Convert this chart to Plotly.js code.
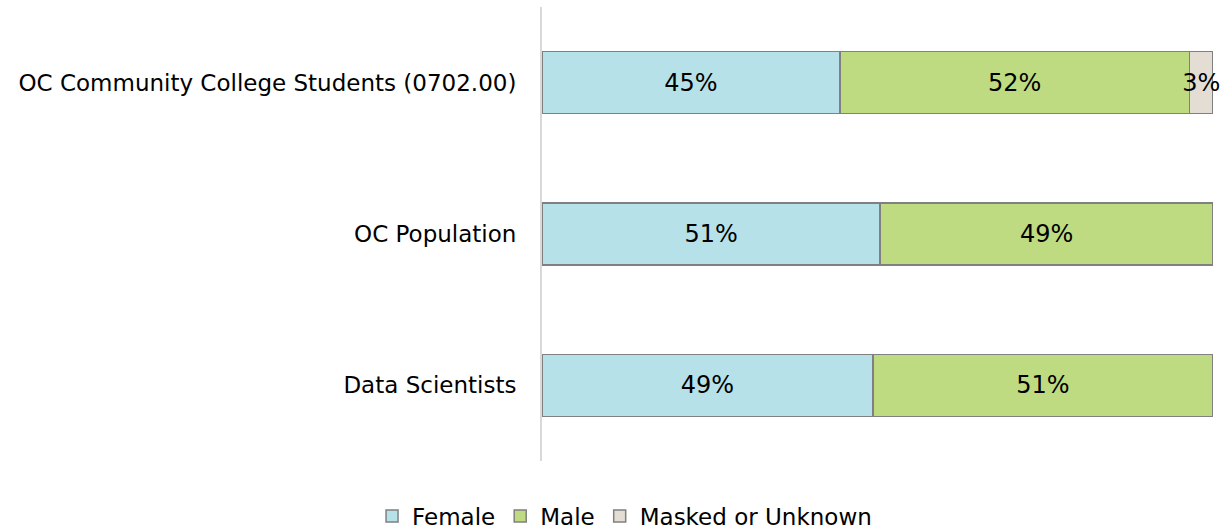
<!DOCTYPE html>
<html>
<head>
<meta charset="utf-8">
<script src="https://cdn.plot.ly/plotly-3.0.1.min.js"></script>
<style>
  body { margin: 0; background: #fff; }
  #graphique { width: 1231px; height: 529px; }
</style>
</head>
<body>
<div id="graphique"></div>
<script>
// Catégories (de haut en bas)
let categories = ["OC Community College Students (0702.00)", "OC Population", "Data Scientists"];

// Parts (en %)
let femmes = [44.4, 50.4, 49.3];
let hommes = [52.1, 49.6, 50.7];
let masques = [3.5, 0, 0];

// Étiquettes affichées dans les barres
let etiquettes_femmes = ["45%", "51%", "49%"];
let etiquettes_hommes = ["52%", "49%", "51%"];
let etiquettes_masques = ["3%", "", ""];

let police = "'DejaVu Sans', sans-serif";

function serie(nom, valeurs, etiquettes, couleur) {
    return {
        type: "bar",
        orientation: "h",
        name: nom,
        y: categories,
        x: valeurs,
        text: etiquettes,
        textposition: "inside",
        insidetextanchor: "middle",
        textangle: 0,
        constraintext: "none",
        cliponaxis: false,
        textfont: {family: police, size: 24, color: "#000000"},
        hoverinfo: "skip",
        marker: {color: couleur, line: {color: "#808080", width: 1.5}}
    };
}

let donnee = [
    serie("Female", femmes, etiquettes_femmes, "#b7e1e8"),
    serie("Male", hommes, etiquettes_hommes, "#bedb82"),
    serie("Masked or Unknown", masques, etiquettes_masques, "#e3ddd3")
];

let apparence = {
    width: 1231,
    height: 529,
    barmode: "stack",
    bargap: 0.59,
    paper_bgcolor: "#ffffff",
    plot_bgcolor: "#ffffff",
    margin: {l: 542, r: 18, t: 7, b: 68, autoexpand: false},
    font: {family: police, size: 23, color: "#000000"},
    showlegend: true,
    legend: {
        orientation: "h",
        x: 0.123,
        xanchor: "center",
        y: -0.121,
        yanchor: "middle",
        font: {family: police, size: 23, color: "#000000"},
        traceorder: "normal"
    },
    xaxis: {
        range: [0, 100],
        showgrid: false,
        zeroline: false,
        showticklabels: false,
        showline: false,
        fixedrange: true
    },
    yaxis: {
        autorange: "reversed",
        showgrid: false,
        zeroline: false,
        showline: true,
        linecolor: "#d9d9d9",
        linewidth: 2,
        ticks: "",
        ticklabelstandoff: 19,
        tickfont: {family: police, size: 23, color: "#000000"},
        fixedrange: true
    }
};

Plotly.newPlot("graphique", donnee, apparence, {displayModeBar: false, staticPlot: true});
</script>
</body>
</html>
